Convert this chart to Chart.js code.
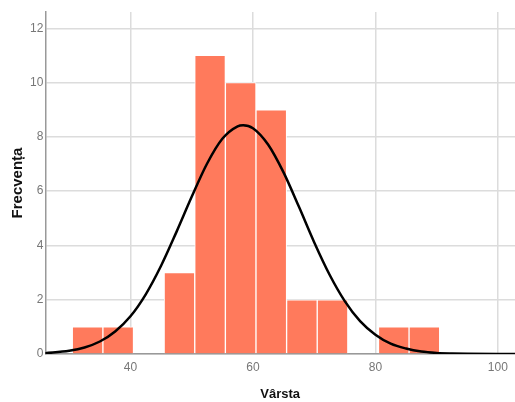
<!DOCTYPE html>
<html>
<head>
<meta charset="utf-8">
<script src="https://cdn.jsdelivr.net/npm/chart.js@4"></script>
<style>
  html, body { margin: 0; padding: 0; background: #fff; }
  #wrap { width: 515px; height: 402px; }
</style>
</head>
<body>
<div id="wrap"><canvas id="myGraph"></canvas></div>
<script>
// histogram bins (centres, width 5) and counts
var binCentres = [33, 38, 43, 48, 53, 58, 63, 68, 73, 78, 83, 88];
var binCounts = [1, 1, 0, 3, 11, 10, 9, 2, 2, 0, 1, 1];

// normal curve
var curveX = [26, 30, 32.5, 35, 37.5, 40, 42.5, 45, 47.5, 50, 52.5, 55, 57.5, 58.4, 60, 62.5, 65, 67.5, 70, 72.5, 75, 77.5, 80, 82.5, 85, 87.5, 90, 92.5, 95, 100, 103];
var curveY = [0.03, 0.12, 0.24, 0.46, 0.83, 1.39, 2.2, 3.25, 4.49, 5.79, 7.01, 7.93, 8.39, 8.43, 8.32, 7.71, 6.69, 5.43, 4.12, 2.93, 1.95, 1.21, 0.71, 0.38, 0.2, 0.09, 0.04, 0.02, 0.01, 0, 0];

var xTicks = [40, 60, 80, 100];
var yTicks = [0, 2, 4, 6, 8, 10, 12];

document.addEventListener("DOMContentLoaded", function(){
  makeChart();
});

function makeChart(){
  let target = document.getElementById("myGraph");
  let bars = binCentres.map(function(x, i){ return {x: x, y: binCounts[i]}; });
  let curve = curveX.map(function(x, i){ return {x: x, y: curveY[i]}; });
  let tickFont = {family: "Liberation Sans", size: 12};

  new Chart(target, {
    type: "bar",
    data: {
      datasets: [{
        type: "line",
        data: curve,
        borderColor: "#000",
        borderWidth: 2.5,
        pointRadius: 0,
        cubicInterpolationMode: "monotone",
        fill: false
      }, {
        type: "bar",
        data: bars,
        backgroundColor: "#ff7a5c",
        borderColor: "#fff",
        borderWidth: 1,
        barPercentage: 1,
        categoryPercentage: 1,
        grouped: false
      }]
    },
    options: {
      responsive: true,
      maintainAspectRatio: false,
      animation: false,
      layout: { padding: {left: 9, top: 12, right: 0, bottom: 0} },
      plugins: {
        legend: { display: false },
        tooltip: { enabled: false }
      },
      scales: {
        x: {
          type: "linear",
          offset: false,
          min: 26.1,
          max: 102.8,
          afterBuildTicks: function(axis){
            axis.ticks = xTicks.map(function(v){ return {value: v}; });
          },
          ticks: { color: "#777", font: tickFont, padding: 6 },
          grid: { color: "#dcdcdc", lineWidth: 1.5, drawTicks: false, offset: false },
          border: { color: "#999", width: 1.5 },
          title: { display: true, text: "Vârsta", color: "#111", font: {family: "Liberation Sans", size: 13, weight: "bold"}, padding: {top: 6, bottom: 0} }
        },
        y: {
          min: 0,
          max: 12.6,
          afterBuildTicks: function(axis){
            axis.ticks = yTicks.map(function(v){ return {value: v}; });
          },
          ticks: { color: "#777", font: tickFont, padding: 2 },
          grid: { color: "#dcdcdc", lineWidth: 1.5, drawTicks: false },
          border: { color: "#999", width: 1.5 },
          title: { display: true, text: "Frecvența", color: "#111", font: {family: "Liberation Sans", size: 15, weight: "bold"}, padding: {top: 0, bottom: 1} }
        }
      }
    }
  });
}
</script>
</body>
</html>
